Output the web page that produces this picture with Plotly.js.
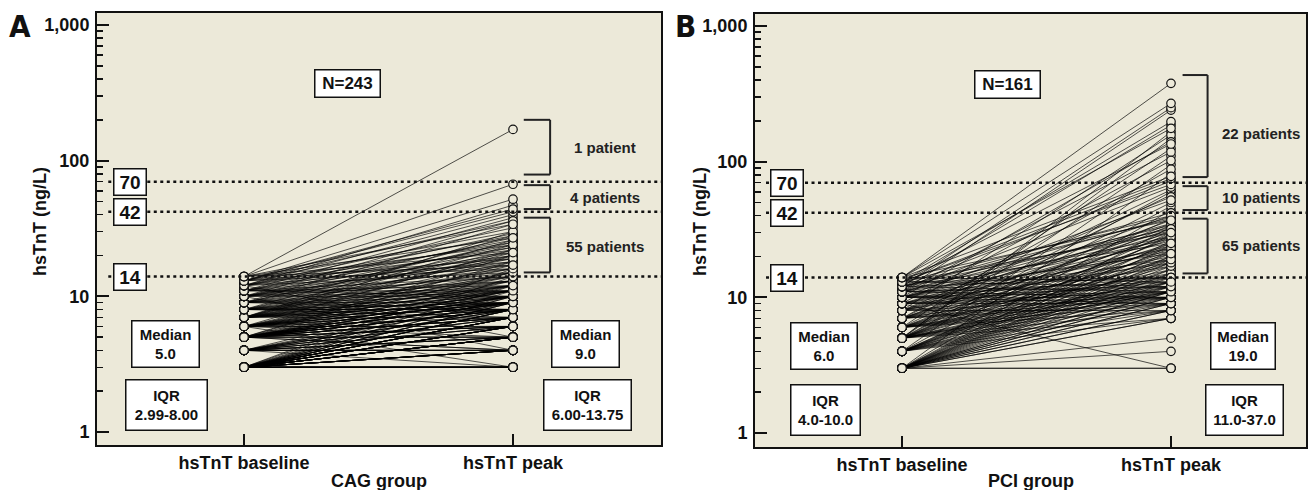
<!DOCTYPE html>
<html><head><meta charset="utf-8">
<script src="https://cdn.plot.ly/plotly-3.0.1.min.js"></script>
<style>html,body{margin:0;padding:0;background:#fff;}#chart{width:1309px;height:490px;}</style>
</head><body><div id="chart"></div>
<script>
// ---------------- data ----------------
const baselineLevels = [3,4,5,6,7,8,9,10,11,12,13,14];
// peak hsTnT of each patient, grouped by the patient's baseline value (values <3 plotted at 3)
const peaksByBaselineA = [
  [3,3,3,3,3,3,3,3,3,3,3,3,4,4,4,4,4,4,4,4,4,4,5,5,5,5,5,5,5,5,5,5,5,5,6,6,6,6,6,6,6,6,6,7,7,7,7,7,7,7,7,8,8,8,8,8,9,9,9,10,10,11,12,14,16],
  [3,4,4,4,4,5,5,5,5,6,6,6,7,7,7,8,8,8,9,9,10,12],
  [4,4,5,5,5,6,6,6,6,7,7,7,7,7,8,8,8,8,8,8,9,9,9,9,9,9,10,10,10,10,11,11,11,12,13,15,18,20],
  [3,5,6,6,7,7,8,8,8,9,9,9,9,10,10,10,11,11,12,12,13,14,15,17,22],
  [7,8,8,9,9,9,10,10,11,11,12,12,13,14,15,16,18,20,21,24,26,30],
  [7,8,8,9,9,10,11,12,13,14,16,19,22,28],
  [8,9,10,11,12,13,15,17,20,23,25,34],
  [4,10,11,13,14,16,18,19,21,24,27,36],
  [10,11,12,14,17,20,23,26,29,38],
  [5,15,18,22,25,28,32,40,47],
  [16,19,24,30,36,42,44,52],
  [17,21,27,34,67,170]
];
const peaksByBaselineB = [
  [3,3,4,5,7,7,8,8,9,9,10,10,11,11,12,13,14,15,16,17,18,19,20,22,24,26,29,33,44,82],
  [7,8,9,10,11,12,13,15,16,18,20,21,23,25,28,30,47,95],
  [7,8,9,10,11,11,12,13,14,17,19,22,24,27,31,34,38,50,60,110,166,148],
  [8,9,10,11,12,13,16,18,21,25,29,35,57,125],
  [9,10,11,14,15,19,23,28,32,37,62,88],
  [8,10,12,17,20,24,30,40,55,157],
  [3,9,10,11,13,18,22,26,33,102],
  [9,10,11,12,14,19,23,27,31,35,52,140],
  [10,12,13,21,28,34,39,65,118,240],
  [11,14,25,32,38,42,72,186,250],
  [12,14,30,40,68,75,135,197],
  [13,37,78,176,269,378]
];
const thresholds = [70, 42, 14];
const yTickVals = [1, 10, 100, 1000];
const yTickText = ['1', '10', '100', '1,000'];
const xTickText = ['hsTnT baseline', 'hsTnT peak'];
const groupNames = ['CAG group', 'PCI group'];
const panelLetters = ['A', 'B'];
const nLabels = ['N=243', 'N=161'];
const mediansA = ['5.0', '9.0'];
const iqrsA = ['2.99-8.00', '6.00-13.75'];
const mediansB = ['6.0', '19.0'];
const iqrsB = ['4.0-10.0', '11.0-37.0'];
const bracketLabelsA = ['1 patient', '4 patients', '55 patients'];
const bracketRangesA = [[79, 200], [44, 66], [15, 38]];
const bracketLabelsB = ['22 patients', '10 patients', '65 patients'];
const bracketRangesB = [[77, 435], [44, 66], [15, 38]];
const bracketLabelYA = [125, 53.5, 23.3];
const bracketLabelYB = [160, 54, 24.3];

// ---------------- layout geometry (pixels) ----------------
const W = 1309, H = 490;
const BG = '#ECE9D9', INK = '#111111';
const FONT = 'Liberation Sans, Arial, sans-serif';
const px = x => x / W, py = y => 1 - y / H;

const panels = [
  {xa:'x', ya:'y', xk:'xaxis', yk:'yaxis', left:97, right:661, top:13, bottom:445, base:244, peak:513, y1:432, y1000:25,
   peaks:peaksByBaselineA, medians:mediansA, iqrs:iqrsA, bl:bracketLabelsA, br:bracketRangesA, bly:bracketLabelYA,
   letterX:20, titleX:40, nX:347, nY:83,
   boxes:[{mx:165.5,mw:69,ix:166.5,iw:83},{mx:585.5,mw:69,ix:587.5,iw:89}], medY:[320,368], iqrY:[379,431],
   brX:[1.04,1.138], blX:1.342, thrX:130},
  {xa:'x2', ya:'y2', xk:'xaxis2', yk:'yaxis2', left:755, right:1306, top:14, bottom:447, base:902, peak:1171, y1:433, y1000:26,
   peaks:peaksByBaselineB, medians:mediansB, iqrs:iqrsB, bl:bracketLabelsB, br:bracketRangesB, bly:bracketLabelYB,
   letterX:685, titleX:700, nX:1007, nY:84,
   boxes:[{mx:824,mw:68,ix:825.5,iw:71},{mx:1243,mw:66,ix:1244.5,iw:79}], medY:[322,370], iqrY:[384,436],
   brX:[1.043,1.136], blX:1.333, thrX:787}
];

const minorVals = [];
[1,10,100].forEach(d => { for (let k = 2; k <= 9; k++) minorVals.push(k*d); });

const traces = [], shapes = [], annotations = [];
const layout = {
  width: W, height: H, margin: {l:0, r:0, t:0, b:0},
  paper_bgcolor: '#ffffff', plot_bgcolor: BG, showlegend: false,
  font: {family: FONT, color: INK}
};

panels.forEach((p, i) => {
  const unit = p.peak - p.base;
  const dec = (p.y1 - p.y1000) / 3;
  const lx = [], ly = [], bx = [], by = [], qx = [], qy = [];
  p.peaks.forEach((arr, j) => {
    arr.forEach(v => {
      lx.push(0, 1, null); ly.push(baselineLevels[j], v, null);
      bx.push(0); by.push(baselineLevels[j]);
      qx.push(1); qy.push(v);
    });
  });
  traces.push({type:'scatter', mode:'lines', x:lx, y:ly, xaxis:p.xa, yaxis:p.ya,
    line:{color:'rgba(0,0,0,0.85)', width:0.8}, hoverinfo:'skip'});
  const mk = {symbol:'circle', size:8.5, color:BG, line:{color:INK, width:1.2}};
  traces.push({type:'scatter', mode:'markers', x:bx, y:by, xaxis:p.xa, yaxis:p.ya, marker:mk});
  traces.push({type:'scatter', mode:'markers', x:qx, y:qy, xaxis:p.xa, yaxis:p.ya, marker:mk});

  layout[p.xk] = {
    domain:[px(p.left), px(p.right)], anchor:p.ya,
    range:[(p.left - p.base)/unit, (p.right - p.base)/unit],
    tickmode:'array', tickvals:[0,1], ticktext:xTickText,
    ticks:'inside', ticklen:11, tickwidth:1.5, tickcolor:INK,
    showline:true, linecolor:INK, linewidth:2, mirror:true,
    showgrid:false, zeroline:false, fixedrange:true,
    tickfont:{family:FONT, size:18, color:INK, weight:'bold'}
  };
  layout[p.yk] = {
    domain:[py(p.bottom), py(p.top)], anchor:p.xa, type:'log',
    range:[(p.y1 - p.bottom)/dec, (p.y1 - p.top)/dec],
    tickmode:'array', tickvals:yTickVals, ticktext:yTickText,
    ticks:'inside', ticklen:12, tickwidth:2, tickcolor:INK,
    minor:{tickmode:'array', tickvals:minorVals, ticks:'inside', ticklen:6, tickwidth:1.5, tickcolor:INK, showgrid:false},
    showline:true, linecolor:INK, linewidth:2, mirror:true,
    showgrid:false, zeroline:false, fixedrange:true, ticklabelstandoff:2,
    tickfont:{family:FONT, size:18, color:INK, weight:'bold'}
  };

  thresholds.forEach(t => {
    shapes.push({type:'line', xref:p.xa + ' domain', yref:p.ya, x0:0.02, x1:1, y0:t, y1:t, layer:'above',
      line:{color:INK, width:2.6, dash:'3px,3.5px'}});
    annotations.push({xref:'paper', yref:p.ya, x:px(p.thrX), y:Math.log10(t), text:String(t), showarrow:false,
      xanchor:'center', yanchor:'middle', width:27, height:21, borderpad:2, bgcolor:'#ffffff',
      bordercolor:INK, borderwidth:1.5, font:{family:FONT, size:19, color:INK, weight:'bold'}});
  });

  p.br.forEach((r, k) => {
    const [lo, hi] = r;
    const ln = {color:'#222', width:2};
    shapes.push({type:'line', xref:p.xa, yref:p.ya, x0:p.brX[0], x1:p.brX[1], y0:hi, y1:hi, line:ln});
    shapes.push({type:'line', xref:p.xa, yref:p.ya, x0:p.brX[1], x1:p.brX[1], y0:lo, y1:hi, line:ln});
    shapes.push({type:'line', xref:p.xa, yref:p.ya, x0:p.brX[0], x1:p.brX[1], y0:lo, y1:lo, line:ln});
    annotations.push({xref:p.xa, yref:p.ya, x:p.blX, y:Math.log10(p.bly[k]), text:p.bl[k], showarrow:false,
      xanchor:'center', yanchor:'middle', font:{family:FONT, size:15, color:'#222', weight:'bold'}});
  });

  annotations.push({xref:'paper', yref:'paper', x:px(p.nX), y:py(p.nY), text:nLabels[i], showarrow:false,
    xanchor:'center', yanchor:'middle', width:60, height:22, borderpad:2, bgcolor:'#ffffff',
    bordercolor:INK, borderwidth:1.5, font:{family:FONT, size:17, color:INK, weight:'bold'}});

  p.boxes.forEach((b, k) => {
    annotations.push({xref:'paper', yref:'paper', x:px(b.mx), y:py((p.medY[0]+p.medY[1])/2),
      text:'Median<br>' + p.medians[k], showarrow:false, xanchor:'center', yanchor:'middle',
      width:b.mw - 5, height:p.medY[1]-p.medY[0]-5, borderpad:1, bgcolor:'#ffffff', bordercolor:INK, borderwidth:1.5,
      font:{family:FONT, size:15, color:INK, weight:'bold'}});
    annotations.push({xref:'paper', yref:'paper', x:px(b.ix), y:py((p.iqrY[0]+p.iqrY[1])/2),
      text:'IQR<br>' + p.iqrs[k], showarrow:false, xanchor:'center', yanchor:'middle',
      width:b.iw - 5, height:p.iqrY[1]-p.iqrY[0]-5, borderpad:1, bgcolor:'#ffffff', bordercolor:INK, borderwidth:1.5,
      font:{family:FONT, size:15, color:INK, weight:'bold'}});
  });

  annotations.push({xref:'paper', yref:'paper', x:px(p.letterX), y:py(26), text:panelLetters[i], showarrow:false,
    xanchor:'center', yanchor:'middle', font:{family:'Liberation Sans Narrow, DejaVu Sans Condensed, sans-serif', size:31, color:INK, weight:'bold'}});
  annotations.push({xref:'paper', yref:'paper', x:px(p.titleX), y:py(222), text:'hsTnT (ng/L)', textangle:-90, showarrow:false,
    xanchor:'center', yanchor:'middle', font:{family:FONT, size:18, color:INK, weight:'bold'}});
  annotations.push({xref:'paper', yref:'paper', x:px((p.left+p.right)/2), y:py(481), text:groupNames[i], showarrow:false,
    xanchor:'center', yanchor:'middle', font:{family:FONT, size:18, color:INK, weight:'bold'}});
});

layout.shapes = shapes;
layout.annotations = annotations;
Plotly.newPlot('chart', traces, layout, {staticPlot:true, displayModeBar:false});
</script></body></html>
